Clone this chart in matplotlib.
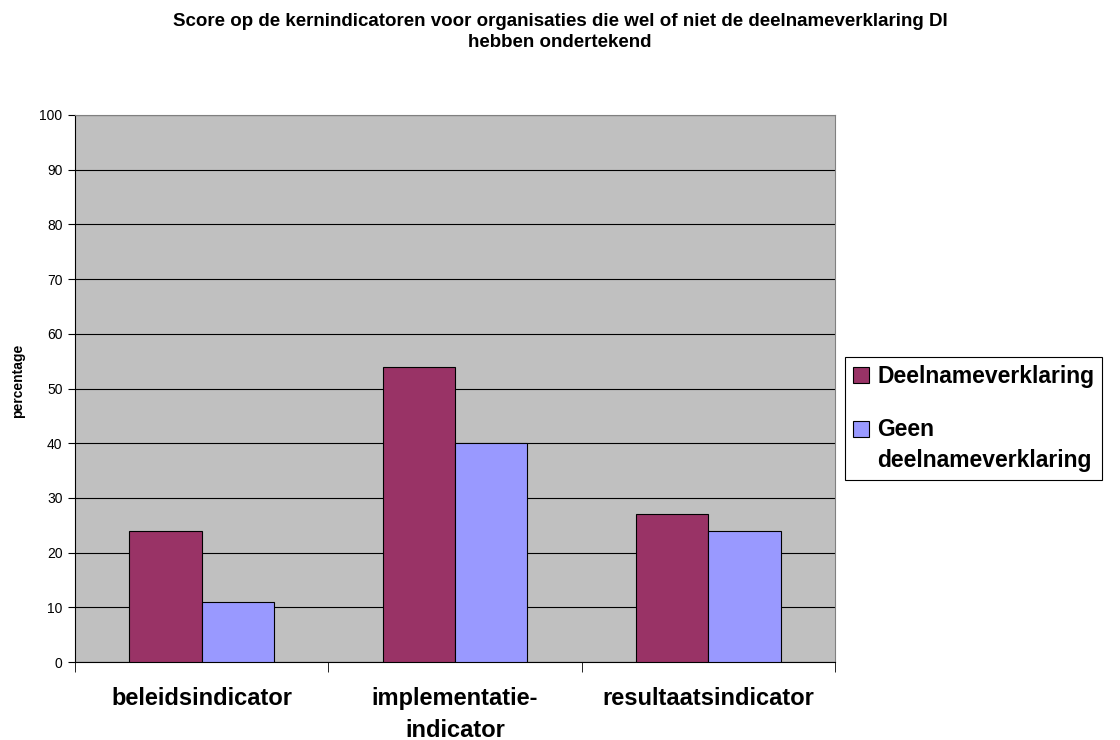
import matplotlib
matplotlib.use("Agg")
import matplotlib.pyplot as plt
from matplotlib.legend_handler import HandlerBase
from matplotlib.patches import Rectangle
import numpy as np

categories = ["beleidsindicator", "implementatie-\nindicator", "resultaatsindicator"]
series_names = ["Deelnameverklaring", "Geen\ndeelnameverklaring"]
deelname = [24, 54, 27]
geen = [11, 40, 24]
yticks = list(range(0, 101, 10))

plt.rcParams['font.family'] = ['Liberation Sans', 'DejaVu Sans']

fig = plt.figure(figsize=(11.2, 7.4), dpi=100)
ax = fig.add_axes([75/1120, 1-662/740, (835-75)/1120, (662-115)/740])
ax.set_facecolor('#C0C0C0')

x = np.arange(len(categories))
w = 1/3.5
b1 = ax.bar(x - w/2, deelname, w, color='#993366', edgecolor='black', linewidth=0.8, zorder=3, label=series_names[0])
b2 = ax.bar(x + w/2, geen, w, color='#9999FF', edgecolor='black', linewidth=0.8, zorder=3, label=series_names[1])

ax.set_xlim(-0.5, len(categories) - 0.5)
ax.set_ylim(0, 100)
ax.set_yticks(yticks)
ax.set_yticklabels([str(t) for t in yticks], fontsize=10)
ax.yaxis.grid(True, color='black', linewidth=0.8, zorder=1)
ax.set_axisbelow(True)

ax.set_xticks(x)
ax.set_xticklabels(categories, fontsize=17, fontweight='bold', linespacing=1.5)
ax.tick_params(axis='x', length=0, pad=18)
ax.set_xticks(np.arange(-0.5, len(categories)), minor=True)
ax.tick_params(axis='x', which='minor', length=7, color='black')
ax.tick_params(axis='y', length=5, color='black', pad=4)

for s in ['top', 'right']:
    ax.spines[s].set_color('#808080')
for s in ['left', 'bottom']:
    ax.spines[s].set_color('black')

ax.set_ylabel('percentage', fontsize=10, fontweight='bold')
ax.yaxis.set_label_coords(-0.066, 0.514)

fig.text(0.5, 1-32/740, "Score op de kernindicatoren voor organisaties die wel of niet de deelnameverklaring DI\nhebben ondertekend",
         ha='center', va='center', fontsize=13.5, fontweight='bold', linespacing=1.35)


class SquareHandler(HandlerBase):
    def __init__(self, shift=0.0):
        super().__init__()
        self.shift = shift

    def legend_artist(self, legend, orig_handle, fontsize, handlebox):
        x0, y0 = handlebox.xdescent, handlebox.ydescent
        wd, ht = handlebox.width, handlebox.height
        p = Rectangle((-x0, -y0 + self.shift), wd, ht,
                      facecolor=orig_handle.patches[0].get_facecolor(),
                      edgecolor='black', linewidth=0.8,
                      transform=handlebox.get_transform())
        handlebox.add_artist(p)
        return p


fs_leg = 16.5
ls_leg = 1.45
leg = fig.legend(handles=[b1, b2], labels=series_names, loc='upper left',
                 bbox_to_anchor=(845/1120, 1-357/740),
                 prop={'weight': 'bold', 'size': fs_leg},
                 handler_map={b1: SquareHandler(0.0), b2: SquareHandler(0.5 * ls_leg * fs_leg)},
                 frameon=True, fancybox=False, edgecolor='black', framealpha=1,
                 handlelength=0.7, handleheight=0.7, handletextpad=0.35,
                 labelspacing=1.3, borderpad=0.35, borderaxespad=0)
leg.get_frame().set_linewidth(0.8)
for t in leg.get_texts():
    t.set_linespacing(ls_leg)

fig.savefig('out.png', dpi=100)
